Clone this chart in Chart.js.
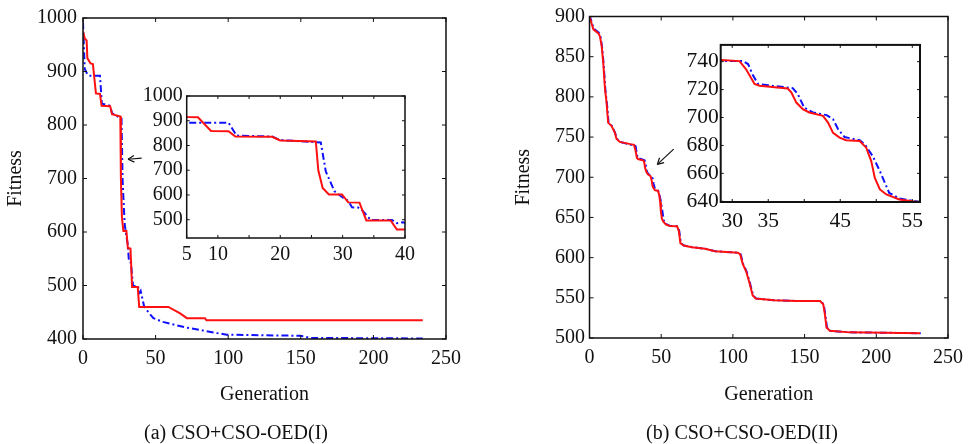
<!DOCTYPE html>
<html>
<head>
<meta charset="utf-8">
<script src="https://cdn.jsdelivr.net/npm/chart.js@4.4.0/dist/chart.umd.min.js"></script>
<style>
  body { margin: 0; background: #fff; width: 971px; height: 444px; position: relative; overflow: hidden; }
  .box { position: absolute; }
  .cap { position: absolute; font: 20px "Liberation Serif", "Times New Roman", serif; color: #111;
         white-space: nowrap; transform: translate(-50%, -50%); }
</style>
</head>
<body>
<div class="box" style="left:0;top:0"><canvas id="mainA" width="480" height="444"></canvas></div>
<div class="box" style="left:490px;top:0"><canvas id="mainB" width="481" height="444"></canvas></div>
<div class="box" style="left:130px;top:80px"><canvas id="insetA" width="290" height="200"></canvas></div>
<div class="box" style="left:670px;top:30px"><canvas id="insetB" width="265" height="210"></canvas></div>
<div class="cap" style="left:236px;top:432px">(a) CSO+CSO-OED(I)</div>
<div class="cap" style="left:742px;top:432px">(b) CSO+CSO-OED(II)</div>
<script>
// (generation, fitness)
const redA = [[0,975],[1.2,962],[2.5,958],[3,925],[5.2,915],[6.8,914],[8.9,859],[11.7,858],[12.8,836],[18.7,835],
  [20,820],[25.7,816],[26.1,700],[26.8,628],[27.8,602],[29.9,602],[30.9,570],[32.7,569],[33.8,497],[37.7,497],
  [38.7,460],[40,460],[58.8,460],[66.9,448],[71.5,439],[84,439],[85,435],[234,435]];
const blueA = [[0,992],[1.2,905],[3,895],[5,892],[11.7,892],[13,840],[18.7,836],[20,822],[26.5,812],[27.3,695],
  [28,655],[28.7,615],[30,590],[30.9,576],[31.5,550],[32.5,549],[33.2,536],[34.5,499],[37.9,499],[38.7,486],
  [39.7,490],[42,462],[45,450],[48.5,439],[55,432],[62.3,427],[70,422],[80.7,417],[90,412],[99,408],
  [150,406],[156.6,402],[234,401]];
const redB = [[0,900],[2.7,884],[6.2,879],[7.3,875],[8.5,863],[9.6,842],[10.8,810],[11.9,793],[13,768],[15.3,764],
  [17.6,756],[18.8,748],[21.1,744],[28.5,741.2],[31,740.4],[31.9,734.7],[33.1,724],[33.8,722.7],[37.7,720.8],
  [38.2,718],[38.9,710.7],[39.8,706],[40.7,703.6],[42.6,701.2],[43.3,696.4],[44,689],[44.9,685.6],[45.8,683.7],
  [47.7,683.2],[48.6,678.4],[49.3,668.8],[49.8,656.8],[50.5,648.5],[51.4,644.9],[53.2,641.3],[56,639.3],
  [61.1,639],[62.3,633],[63.4,618],[65.7,615],[71.4,613],[80.6,611],[87.4,608],[103.5,606],[105.1,604],
  [106.9,592],[109.2,583],[111.5,569],[113.8,553],[116,549],[128.6,547],[144.7,546],[160.8,546],[163,542],
  [164.1,530],[165.3,513],[167.6,509],[181.3,507],[230.5,506]];
const blueB = [[0,902],[2.9,885],[6.5,880],[7.6,876],[8.8,862],[9.9,840],[11.1,808],[12.2,791],[13.3,768],
  [15.6,764],[17.9,755],[19.1,748],[21.4,744],[28.5,740.4],[31.5,740.4],[32.2,738.3],[32.9,730],[33.6,724],
  [38.4,721],[39.1,716.8],[40,707],[41.2,703.6],[43.1,701.7],[44,698.8],[44.7,691.6],[45.6,686],[47.7,683.7],
  [48.4,680.8],[49.5,672.4],[50.5,661.6],[51.2,653.2],[51.8,646],[53.2,642],[56,639.5],[61.4,639],[62.6,633],
  [63.7,618],[66,615],[71.7,613],[80.9,611],[87.7,608],[103.8,606],[105.4,604],[107.2,592],[109.5,583],
  [111.8,569],[114.1,553],[116.3,549],[128.9,547],[145,546],[161.1,546],[163.3,542],[164.4,530],[165.6,513],
  [167.9,509],[181.6,507],[231,506]];

const mainAx = [0, 50, 100, 150, 200, 250];
const mainAy = [400, 500, 600, 700, 800, 900, 1000];
const mainBx = [0, 50, 100, 150, 200, 250];
const mainBy = [500, 550, 600, 650, 700, 750, 800, 850, 900];
const insetAx = [5, 10, 15, 20, 25, 30, 35, 40];
const insetAxLabels = [5, 10, 20, 30, 40];
const insetAy = [500, 600, 700, 800, 900, 1000];
const insetBx = [30, 35, 40, 45, 50, 55];
const insetBxLabels = [30, 35, 45, 55];
const insetBy = [640, 660, 680, 700, 720, 740];
// arrows: from (gen, fitness) to (gen, fitness)
const arrowA = [40.4, 738, 31, 736];
const arrowB = [58.7, 735, 47.3, 716];

const serif = '"Liberation Serif", "Times New Roman", serif';
const toPts = arr => arr.map(p => ({x: p[0], y: p[1]}));

function line(ctx, x1, y1, x2, y2) {
  ctx.beginPath(); ctx.moveTo(x1, y1); ctx.lineTo(x2, y2); ctx.stroke();
}

const frame = {
  id: 'frame',
  beforeDatasetsDraw(chart) {
    const a = chart.chartArea, ctx = chart.ctx;
    ctx.save(); ctx.fillStyle = '#fff';
    ctx.fillRect(a.left, a.top, a.right - a.left, a.bottom - a.top);
    ctx.restore();
  },
  afterDatasetsDraw(chart, args, o) {
    const {ctx, chartArea: a, scales: {x, y}} = chart;
    ctx.save();
    ctx.strokeStyle = '#111';
    ctx.lineWidth = o.lw;
    ctx.strokeRect(a.left, a.top, a.right - a.left, a.bottom - a.top);
    ctx.lineWidth = 1;
    x.ticks.forEach(t => {
      const p = x.getPixelForValue(t.value);
      line(ctx, p, a.bottom, p, a.bottom - o.tick);
      line(ctx, p, a.top, p, a.top + o.tick);
    });
    y.ticks.forEach(t => {
      const p = y.getPixelForValue(t.value);
      line(ctx, a.left, p, a.left + o.tick, p);
      line(ctx, a.right, p, a.right - o.tick, p);
    });
    if (o.arrow) {
      const x1 = x.getPixelForValue(o.arrow[0]), y1 = y.getPixelForValue(o.arrow[1]);
      const x2 = x.getPixelForValue(o.arrow[2]), y2 = y.getPixelForValue(o.arrow[3]);
      const ang = Math.atan2(y2 - y1, x2 - x1);
      ctx.lineWidth = 1.2;
      line(ctx, x1, y1, x2, y2);
      line(ctx, x2, y2, x2 - 7 * Math.cos(ang - 0.5), y2 - 7 * Math.sin(ang - 0.5));
      line(ctx, x2, y2, x2 - 7 * Math.cos(ang + 0.5), y2 - 7 * Math.sin(ang + 0.5));
    }
    ctx.restore();
  }
};

function plot(id, red, blue, o) {
  const font = {family: serif, size: o.fs};
  const titleFont = {family: serif, size: 20};
  return new Chart(document.getElementById(id), {
    type: 'line',
    data: {
      datasets: [
        {data: toPts(red), borderColor: '#ff1010', borderWidth: 2, pointRadius: 0, tension: 0},
        {data: toPts(blue), borderColor: '#1010ff', borderWidth: 2, borderDash: [7, 3, 2, 3], pointRadius: 0, tension: 0}
      ]
    },
    options: {
      responsive: false,
      animation: false,
      events: [],
      layout: {padding: o.pad},
      plugins: {
        legend: {display: false},
        tooltip: {enabled: false},
        frame: {lw: o.lw, tick: o.tl, arrow: o.arrow}
      },
      scales: {
        x: {
          type: 'linear', min: o.xr[0], max: o.xr[1],
          grid: {display: false, drawTicks: false}, border: {display: false},
          afterBuildTicks: s => { s.ticks = o.xt.map(v => ({value: v})); },
          afterFit: s => { s.height = o.xh; },
          ticks: {font, color: '#111', padding: o.xp, autoSkip: false, maxRotation: 0,
                  callback: v => (o.xl.includes(v) ? String(v) : '')},
          title: {display: !!o.titles, text: 'Generation', font: titleFont, color: '#111',
                  padding: {top: 0, bottom: 37}}
        },
        y: {
          type: 'linear', min: o.yr[0], max: o.yr[1],
          grid: {display: false, drawTicks: false}, border: {display: false},
          afterBuildTicks: s => { s.ticks = o.yt.map(v => ({value: v})); },
          afterFit: s => { s.width = o.yw; },
          ticks: {font, color: '#111', padding: o.yp, autoSkip: false, callback: v => String(v)},
          title: {display: !!o.titles, text: 'Fitness', font: titleFont, color: '#111',
                  padding: {top: o.ytp || 0, bottom: 0}}
        }
      }
    },
    plugins: [frame]
  });
}

plot('mainA', redA, blueA, {
  pad: {left: 0, top: 13.7, right: 34, bottom: 0}, xh: 105, yw: 83, fs: 20, xp: 8, yp: 6, lw: 1.5, tl: 4,
  xr: [0, 250], yr: [400, 1000], xt: mainAx, xl: mainAx, yt: mainAy, titles: true, ytp: 4, arrow: arrowA
});
plot('mainB', redB, blueB, {
  pad: {left: 0, top: 13, right: 18, bottom: 0}, xh: 106, yw: 99.5, fs: 20, xp: 8, yp: 4.5, lw: 1.5, tl: 4,
  xr: [0, 250], yr: [500, 900], xt: mainBx, xl: mainBx, yt: mainBy, titles: true, ytp: 21.3, arrow: arrowB
});
plot('insetA', redA, blueA, {
  pad: {left: 0, top: 12.7, right: 9.3, bottom: 0}, xh: 42, yw: 56.7, fs: 20, xp: 5, yp: 4, lw: 1.5, tl: 3,
  xr: [5, 40], yr: [426, 1000], xt: insetAx, xl: insetAxLabels, yt: insetAy
});
plot('insetB', redB, blueB, {
  pad: {left: 0, top: 14, right: 15, bottom: 0}, xh: 38, yw: 50.7, fs: 21.5, xp: 6, yp: 2, lw: 2, tl: 3,
  xr: [28.4, 56.07], yr: [639.5, 752], xt: insetBx, xl: insetBxLabels, yt: insetBy
});
</script>
</body>
</html>
